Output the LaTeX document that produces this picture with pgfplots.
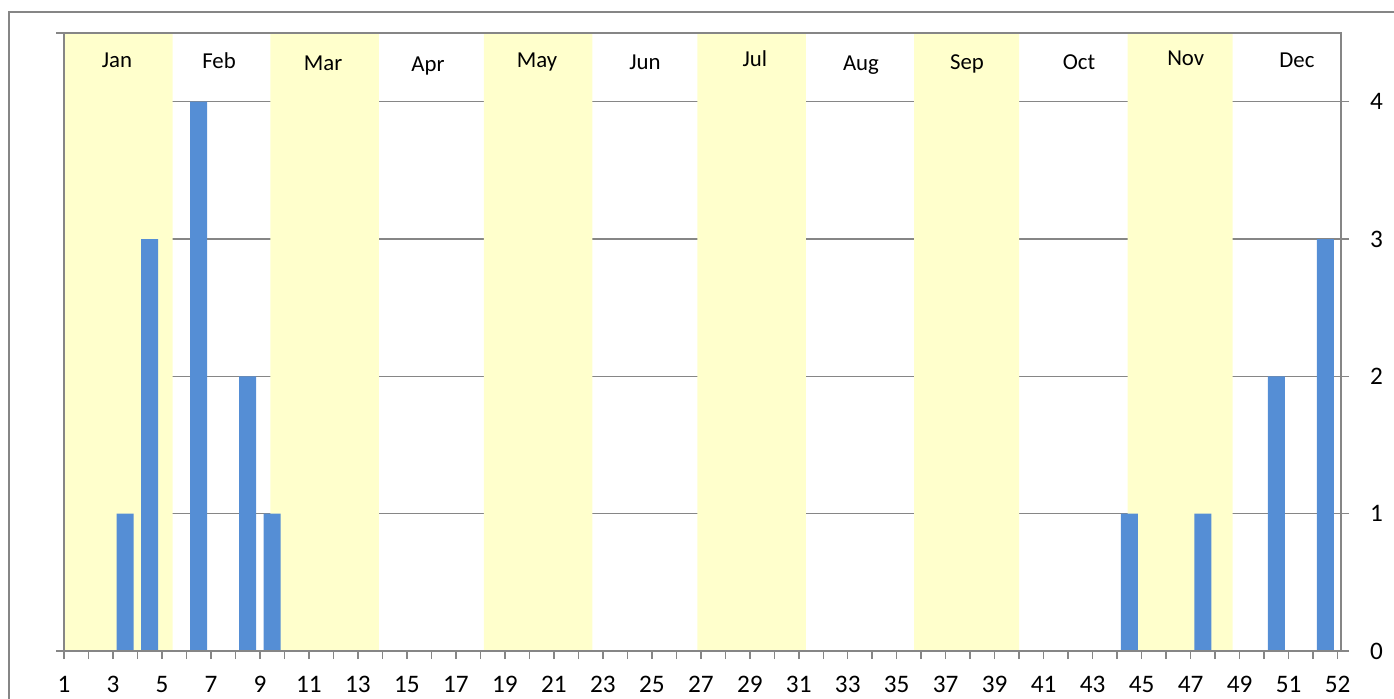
\documentclass[border=0pt]{standalone}
\usepackage{pgfplots}
\pgfplotsset{compat=1.18}
\usepackage{fontspec}
\setmainfont{Carlito}
\definecolor{barblue}{RGB}{85,142,213}
\definecolor{band}{RGB}{255,255,204}
\definecolor{gridgray}{RGB}{134,134,134}
\begin{document}
\begin{tikzpicture}
\begin{axis}[
  at={(32pt,-325.5pt)}, anchor=south west,
  scale only axis, width=638.5pt, height=309pt,
  xmin=1, xmax=53.14, ymin=0, ymax=4.5,
  axis line style={gridgray, line width=0.75pt},
  xtick={1,...,53},
  xticklabels={1,,3,,5,,7,,9,,11,,13,,15,,17,,19,,21,,23,,25,,27,,29,,31,,33,,35,,37,,39,,41,,43,,45,,47,,49,,51,,52},
  ytick={0,1,2,3,4},
  ytick pos=right, xtick pos=bottom,
  tick align=outside,
  major tick length=4pt,
  tick style={gridgray, line width=0.75pt},
  ymajorgrids, grid style={gridgray, line width=0.75pt},
  /pgf/number format/assume math mode=true,
  ticklabel style={font=\fontsize{12.6}{14}\selectfont, text=black},
  xticklabel style={yshift=-5pt},
  yticklabel style={xshift=7pt},
  clip=false,
]
% month bands (yellow)
\addplot[fill=band, draw=none, const plot] coordinates {(1,4.5) (5.43,4.5)} \closedcycle;
\addplot[fill=band, draw=none, const plot] coordinates {(9.43,4.5) (13.86,4.5)} \closedcycle;
\addplot[fill=band, draw=none, const plot] coordinates {(18.14,4.5) (22.57,4.5)} \closedcycle;
\addplot[fill=band, draw=none, const plot] coordinates {(26.86,4.5) (31.29,4.5)} \closedcycle;
\addplot[fill=band, draw=none, const plot] coordinates {(35.71,4.5) (40.0,4.5)} \closedcycle;
\addplot[fill=band, draw=none, const plot] coordinates {(44.43,4.5) (48.71,4.5)} \closedcycle;
% bars
\addplot[ybar, bar width=8.5pt, fill=barblue, draw=none] coordinates {
  (3.5,1) (4.5,3) (6.5,4) (8.5,2) (9.5,1)
  (44.5,1) (47.5,1) (50.5,2) (52.5,3)
};
% month labels
\begin{scope}[every node/.style={anchor=base, font=\fontsize{11.4}{13}\selectfont}]
\node at (axis cs:3.16,4.246) {Jan};
\node at (axis cs:7.33,4.239) {Feb};
\node at (axis cs:11.58,4.224) {Mar};
\node at (axis cs:15.86,4.217) {Apr};
\node at (axis cs:20.31,4.246) {May};
\node at (axis cs:24.72,4.232) {Jun};
\node at (axis cs:29.21,4.253) {Jul};
\node at (axis cs:33.54,4.224) {Aug};
\node at (axis cs:37.87,4.232) {Sep};
\node at (axis cs:42.44,4.232) {Oct};
\node at (axis cs:46.8,4.261) {Nov};
\node at (axis cs:51.34,4.246) {Dec};
\end{scope}
\draw[gridgray, line width=0.75pt] (axis cs:1,4.5) -- (axis cs:0.673,4.5);
\draw[gridgray, line width=0.75pt] (axis cs:1,0) -- (axis cs:0.673,0);
\draw[gridgray, line width=0.75pt] (axis cs:1,0) rectangle (axis cs:53.14,4.5);
\end{axis}
\draw[gridgray, line width=0.75pt] (4.5pt,-6pt) rectangle (720pt,-370pt);
\pgfresetboundingbox
\useasboundingbox (0,0) rectangle (697pt,-349pt);
\end{tikzpicture}
\end{document}
